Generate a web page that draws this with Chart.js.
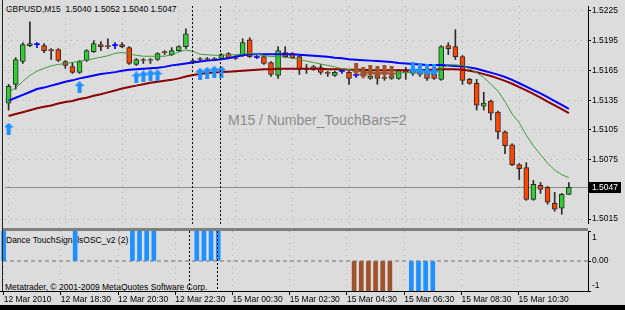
<!DOCTYPE html>
<html>
<head>
<meta charset="utf-8">
<script src="https://cdn.jsdelivr.net/npm/chart.js@4.4.1/dist/chart.umd.min.js"></script>
<style>
  html, body { margin: 0; padding: 0; }
  body { width: 625px; height: 310px; background: #dcdcdc; position: relative; overflow: hidden; font-family: 'Liberation Sans', Arial, sans-serif; }
  .txt { position: absolute; white-space: nowrap; font-size: 8.5px; color: #000; line-height: 1; }
  canvas { position: absolute; left: 0; }
</style>
</head>
<body>
<div class="txt" style="left:6px; top:4.5px;">GBPUSD,M15&nbsp; 1.5040 1.5052 1.5040 1.5047</div>
<div class="txt" style="left:228px; top:112.5px; font-size:14px; color:#8c8c8c;">M15 / Number_TouchBars=2</div>
<div class="txt" style="left:6px; top:236px;">Dance TouchSignalsOSC_v2 (2)</div>
<div class="txt" style="left:5px; top:282.5px;">Metatrader, © 2001-2009 MetaQuotes Software Corp.</div>
<canvas id="main" width="625" height="230" style="top:0"></canvas>
<canvas id="osc" width="625" height="81" style="top:229px"></canvas>
<div style="position:absolute; left:2px; top:228px; width:586px; height:3px; background:#808080"></div>
<div style="position:absolute; left:2px; top:0; width:1px; height:291px; background:#222"></div>
<div style="position:absolute; left:0; top:305px; width:625px; height:5px; background:#000"></div>
<script>
// GBPUSD M15, 12 Mar 16:30 .. 15 Mar 12:15
const opens = [1.5132, 1.5151, 1.5174, 1.5190, 1.5191, 1.5190, 1.5186, 1.5186, 1.5174, 1.5169,
  1.5163, 1.5175, 1.5184, 1.5191, 1.5190, 1.5190, 1.5191, 1.5188, 1.5171, 1.5176,
  1.5175, 1.5176, 1.5184, 1.5181, 1.5185, 1.5189, 1.5173, 1.5177, 1.5177, 1.5176,
  1.5177, 1.5182, 1.5178, 1.5180, 1.5196, 1.5178, 1.5179, 1.5173, 1.5160, 1.5183,
  1.5182, 1.5179, 1.5167, 1.5166, 1.5168, 1.5163, 1.5160, 1.5164, 1.5163, 1.5160,
  1.5165, 1.5157, 1.5160, 1.5158, 1.5157, 1.5157, 1.5164, 1.5162, 1.5164, 1.5162,
  1.5161, 1.5156, 1.5190, 1.5189, 1.5179, 1.5156, 1.5152, 1.5129, 1.5134, 1.5123,
  1.5103, 1.5090, 1.5070, 1.5067, 1.5035, 1.5049, 1.5047, 1.5031, 1.5026, 1.5040];
const highs = [1.5151, 1.5178, 1.5193, 1.5214, 1.5193, 1.5192, 1.5187, 1.5187, 1.5175, 1.5173,
  1.5175, 1.5186, 1.5195, 1.5194, 1.5197, 1.5193, 1.5193, 1.5189, 1.5177, 1.5177,
  1.5177, 1.5183, 1.5185, 1.5188, 1.5190, 1.5207, 1.5176, 1.5178, 1.5178, 1.5178,
  1.5182, 1.5183, 1.5180, 1.5197, 1.5198, 1.5180, 1.5180, 1.5174, 1.5189, 1.5189,
  1.5183, 1.5180, 1.5171, 1.5170, 1.5171, 1.5164, 1.5164, 1.5165, 1.5164, 1.5162,
  1.5167, 1.5161, 1.5162, 1.5160, 1.5161, 1.5166, 1.5168, 1.5166, 1.5165, 1.5164,
  1.5162, 1.5190, 1.5193, 1.5206, 1.5180, 1.5157, 1.5156, 1.5143, 1.5135, 1.5124,
  1.5104, 1.5091, 1.5071, 1.5072, 1.5054, 1.5052, 1.5048, 1.5042, 1.5041, 1.5052];
const lows = [1.5125, 1.5146, 1.5172, 1.5189, 1.5188, 1.5183, 1.5176, 1.5174, 1.5167, 1.5162,
  1.5162, 1.5174, 1.5183, 1.5185, 1.5187, 1.5187, 1.5188, 1.5171, 1.5170, 1.5172,
  1.5172, 1.5175, 1.5181, 1.5180, 1.5184, 1.5187, 1.5172, 1.5174, 1.5175, 1.5175,
  1.5176, 1.5177, 1.5176, 1.5179, 1.5178, 1.5177, 1.5171, 1.5159, 1.5157, 1.5178,
  1.5177, 1.5161, 1.5162, 1.5165, 1.5161, 1.5159, 1.5159, 1.5162, 1.5151, 1.5158,
  1.5159, 1.5156, 1.5151, 1.5155, 1.5156, 1.5156, 1.5156, 1.5160, 1.5159, 1.5155,
  1.5156, 1.5155, 1.5181, 1.5176, 1.5151, 1.5151, 1.5125, 1.5125, 1.5115, 1.5096,
  1.5081, 1.5069, 1.5055, 1.5034, 1.5034, 1.5041, 1.5030, 1.5023, 1.5020, 1.5040];
const closes = [1.5149, 1.5176, 1.5191, 1.5192, 1.5191, 1.5185, 1.5185, 1.5175, 1.5170, 1.5163,
  1.5174, 1.5185, 1.5192, 1.5189, 1.5189, 1.5190, 1.5189, 1.5172, 1.5176, 1.5175,
  1.5176, 1.5182, 1.5183, 1.5185, 1.5189, 1.5202, 1.5175, 1.5176, 1.5176, 1.5177,
  1.5181, 1.5178, 1.5177, 1.5193, 1.5179, 1.5178, 1.5172, 1.5161, 1.5185, 1.5179,
  1.5178, 1.5166, 1.5166, 1.5169, 1.5163, 1.5162, 1.5163, 1.5164, 1.5157, 1.5160,
  1.5161, 1.5159, 1.5157, 1.5157, 1.5159, 1.5165, 1.5163, 1.5164, 1.5161, 1.5157,
  1.5157, 1.5189, 1.5187, 1.5179, 1.5155, 1.5152, 1.5130, 1.5132, 1.5122, 1.5103,
  1.5089, 1.5070, 1.5066, 1.5035, 1.5050, 1.5045, 1.5032, 1.5025, 1.5040, 1.5047];

// moving averages
const maGreen = [1.51433, 1.51472, 1.51540, 1.51599, 1.51642, 1.51672, 1.51696, 1.51711, 1.51720, 1.51730,
  1.51745, 1.51754, 1.51769, 1.51783, 1.51798, 1.51822, 1.51832, 1.51817, 1.51803, 1.51793,
  1.51793, 1.51793, 1.51793, 1.51808, 1.51837, 1.51856, 1.51842, 1.51813, 1.51808, 1.51803,
  1.51803, 1.51808, 1.51808, 1.51817, 1.51822, 1.51813, 1.51803, 1.51788, 1.51793, 1.51783,
  1.51774, 1.51759, 1.51745, 1.51730, 1.51715, 1.51701, 1.51686, 1.51667, 1.51657, 1.51642,
  1.51638, 1.51633, 1.51628, 1.51623, 1.51618, 1.51623, 1.51628, 1.51628, 1.51628, 1.51618,
  1.51618, 1.51667, 1.51706, 1.51706, 1.51701, 1.51667, 1.51628, 1.51579, 1.51511, 1.51443,
  1.51336, 1.51210, 1.51122, 1.50996, 1.50889, 1.50801, 1.50714, 1.50646, 1.50598, 1.50568];
const maBlue = [1.51346, 1.51375, 1.51404, 1.51433, 1.51463, 1.51477, 1.51497, 1.51516, 1.51536, 1.51550,
  1.51570, 1.51584, 1.51599, 1.51613, 1.51623, 1.51633, 1.51647, 1.51657, 1.51662, 1.51667,
  1.51672, 1.51677, 1.51686, 1.51701, 1.51711, 1.51720, 1.51730, 1.51740, 1.51749, 1.51754,
  1.51764, 1.51774, 1.51788, 1.51803, 1.51813, 1.51813, 1.51813, 1.51813, 1.51813, 1.51813,
  1.51813, 1.51808, 1.51803, 1.51798, 1.51793, 1.51788, 1.51779, 1.51774, 1.51764, 1.51759,
  1.51754, 1.51749, 1.51745, 1.51740, 1.51735, 1.51725, 1.51720, 1.51715, 1.51711, 1.51706,
  1.51706, 1.51706, 1.51701, 1.51696, 1.51691, 1.51681, 1.51667, 1.51647, 1.51628, 1.51608,
  1.51584, 1.51555, 1.51521, 1.51486, 1.51452, 1.51419, 1.51380, 1.51341, 1.51302, 1.51263];
const maRed = [1.51190, 1.51210, 1.51229, 1.51249, 1.51268, 1.51283, 1.51297, 1.51317, 1.51331, 1.51341,
  1.51361, 1.51375, 1.51395, 1.51409, 1.51429, 1.51448, 1.51468, 1.51482, 1.51497, 1.51511,
  1.51526, 1.51536, 1.51545, 1.51555, 1.51570, 1.51589, 1.51604, 1.51613, 1.51623, 1.51628,
  1.51633, 1.51638, 1.51642, 1.51647, 1.51652, 1.51657, 1.51662, 1.51662, 1.51667, 1.51667,
  1.51667, 1.51667, 1.51667, 1.51667, 1.51667, 1.51662, 1.51662, 1.51662, 1.51657, 1.51657,
  1.51657, 1.51652, 1.51652, 1.51652, 1.51652, 1.51652, 1.51652, 1.51652, 1.51652, 1.51657,
  1.51657, 1.51662, 1.51662, 1.51662, 1.51657, 1.51647, 1.51633, 1.51613, 1.51594, 1.51570,
  1.51545, 1.51516, 1.51482, 1.51448, 1.51414, 1.51375, 1.51336, 1.51297, 1.51259, 1.51220];

// signal arrows on the price chart
const upArrowBars = [0, 10, 18, 19, 20, 21, 27, 28, 29, 30];
const upArrowPrices = [1.51064, 1.51482, 1.51579, 1.51589, 1.51599, 1.51599, 1.51618, 1.51628, 1.51638, 1.51638];
const brownArrowBars = [49, 50, 51, 52, 53, 54];
const brownArrowPrices = [1.51667, 1.51628, 1.51647, 1.51638, 1.51647, 1.51638];
const downArrowBars = [57, 58, 59, 60];
const downArrowPrices = [1.51677, 1.51667, 1.51657, 1.51657];

// oscillator histogram
const oscBlueBars = [0, 10, 18, 19, 20, 21, 27, 28, 29, 30, 57, 58, 59, 60];
const oscBlueValues = [1, 1, 1, 1, 1, 1, 1, 1, 1, 1, -1, -1, -1, -1];
const oscBrownBars = [49, 50, 51, 52, 53, 54];
const oscBrownValues = [-1, -1, -1, -1, -1, -1];
const oscTicks = [1, 0, -1];
const oscTickLabels = ['1', '0.00', '-1'];

// axes
const tickBars = [0, 8, 16, 24, 32, 40, 48, 56, 64, 72];
const tickLabels = ['12 Mar 2010', '12 Mar 18:30', '12 Mar 20:30', '12 Mar 22:30', '15 Mar 00:30',
  '15 Mar 02:30', '15 Mar 04:30', '15 Mar 06:30', '15 Mar 08:30', '15 Mar 10:30'];
const priceTicks = [1.5015, 1.5075, 1.5105, 1.5135, 1.5165, 1.5195, 1.5225];
const separatorBars = [26, 30];

const X_MIN = -0.51, X_MAX = 81.7;
const Y_MIN = 1.50102, Y_MAX = 1.52299;

Chart.defaults.font.family = "'Liberation Sans', Arial, sans-serif";
Chart.defaults.font.size = 8.5;
Chart.defaults.color = '#000';

const GRID = '#b4b4b4';
const bars = opens.map((_, i) => i);
const isDoji = (i) => opens[i] === closes[i];
const bodyColor = (i) => isDoji(i) ? '#0000ff' : closes[i] > opens[i] ? '#32cd32' : '#ff4500';

function arrowImage(color, up) {
  const c = document.createElement('canvas');
  c.width = 10; c.height = 12;
  const g = c.getContext('2d');
  g.fillStyle = color;
  g.beginPath();
  if (up) {
    g.moveTo(5, 0); g.lineTo(10, 5); g.lineTo(7, 5); g.lineTo(7, 12);
    g.lineTo(3, 12); g.lineTo(3, 5); g.lineTo(0, 5);
  } else {
    g.moveTo(5, 12); g.lineTo(10, 7); g.lineTo(7, 7); g.lineTo(7, 0);
    g.lineTo(3, 0); g.lineTo(3, 7); g.lineTo(0, 7);
  }
  g.closePath();
  g.fill();
  return c;
}

function drawSeparators(chart) {
  const { ctx, chartArea: a, scales: { x } } = chart;
  ctx.save();
  ctx.strokeStyle = '#000';
  ctx.lineWidth = 1;
  ctx.setLineDash([2, 2]);
  separatorBars.forEach((b) => {
    const px = Math.round(x.getPixelForValue(b)) - 0.5;
    ctx.beginPath();
    ctx.moveTo(px, a.top);
    ctx.lineTo(px, a.bottom);
    ctx.stroke();
  });
  ctx.restore();
}

const mainDecor = {
  id: 'mainDecor',
  beforeDatasetsDraw(chart) {
    const { ctx, chartArea: a, scales: { y } } = chart;
    const yb = Math.round(y.getPixelForValue(closes[closes.length - 1])) + 0.5;
    ctx.save();
    ctx.strokeStyle = '#8a9090';
    ctx.lineWidth = 1;
    ctx.beginPath();
    ctx.moveTo(a.left, yb);
    ctx.lineTo(a.right, yb);
    ctx.stroke();
    ctx.restore();
  },
  afterDatasetsDraw(chart) {
    drawSeparators(chart);
  },
  afterDraw(chart) {
    const { ctx, chartArea: a, scales: { y } } = chart;
    const last = closes[closes.length - 1];
    const yb = Math.round(y.getPixelForValue(last));
    ctx.save();
    ctx.fillStyle = '#000';
    ctx.fillRect(a.right + 1, yb - 5, 32, 11);
    ctx.fillStyle = '#fff';
    ctx.font = "8.5px 'Liberation Sans', Arial, sans-serif";
    ctx.textBaseline = 'middle';
    ctx.fillText(last.toFixed(4), a.right + 4, yb + 0.5);
    ctx.restore();
  }
};

const oscDecor = {
  id: 'oscDecor',
  beforeDatasetsDraw(chart) {
    const { ctx, chartArea: a, scales: { y } } = chart;
    const y0 = Math.round(y.getPixelForValue(0));
    ctx.save();
    ctx.strokeStyle = '#a6a6a6';
    ctx.lineWidth = 2;
    ctx.setLineDash([4, 3]);
    ctx.beginPath();
    ctx.moveTo(a.left + 3, y0);
    ctx.lineTo(a.right, y0);
    ctx.stroke();
    ctx.restore();
  },
  afterDatasetsDraw(chart) {
    drawSeparators(chart);
  },
  afterDraw(chart) {
    const { ctx, chartArea: a, scales: { y } } = chart;
    const nudge = [7, 0, -5];
    ctx.save();
    ctx.fillStyle = '#000';
    ctx.font = "8.5px 'Liberation Sans', Arial, sans-serif";
    ctx.textBaseline = 'middle';
    oscTicks.forEach((v, k) => {
      ctx.fillText(oscTickLabels[k], a.right + 4, y.getPixelForValue(v) + nudge[k]);
    });
    ctx.restore();
  }
};

const xCommon = {
  type: 'linear', min: X_MIN, max: X_MAX, offset: false,
  afterBuildTicks: (s) => { s.ticks = tickBars.map((v) => ({ value: v })); }
};

new Chart(document.getElementById('main'), {
  type: 'bar',
  data: {
    datasets: [
      { type: 'scatter', data: upArrowBars.map((b, k) => ({ x: b, y: upArrowPrices[k] })), pointStyle: arrowImage('#1e90ff', true), order: 0 },
      { type: 'scatter', data: brownArrowBars.map((b, k) => ({ x: b, y: brownArrowPrices[k] })), pointStyle: arrowImage('#a0522d', false), order: 0 },
      { type: 'scatter', data: downArrowBars.map((b, k) => ({ x: b, y: downArrowPrices[k] })), pointStyle: arrowImage('#1e90ff', false), order: 0 },
      { type: 'line', data: bars.map((i) => ({ x: i, y: maGreen[i] })), borderColor: '#3c9c3c', borderWidth: 1, pointRadius: 0, order: 1 },
      { type: 'line', data: bars.map((i) => ({ x: i, y: maBlue[i] })), borderColor: '#0000ff', borderWidth: 2, pointRadius: 0, order: 1 },
      { type: 'line', data: bars.map((i) => ({ x: i, y: maRed[i] })), borderColor: '#8b0000', borderWidth: 2, pointRadius: 0, order: 1 },
      {
        data: bars.map((i) => ({ x: i, y: [Math.min(opens[i], closes[i]), Math.max(opens[i], closes[i])] })),
        backgroundColor: bars.map(bodyColor),
        borderColor: bars.map((i) => isDoji(i) ? '#0000ff' : '#2b2b2b'),
        borderWidth: bars.map((i) => isDoji(i) ? 0 : 1),
        borderSkipped: false, barThickness: 5, minBarLength: 1, grouped: false, order: 2
      },
      {
        data: bars.map((i) => ({ x: i, y: [lows[i], highs[i]] })),
        backgroundColor: bars.map((i) => isDoji(i) ? '#0000ff' : '#2b2b2b'),
        barThickness: 1, grouped: false, order: 3
      }
    ]
  },
  options: {
    responsive: false, animation: false,
    layout: { padding: { top: 2, bottom: 2, left: 0, right: 0 } },
    plugins: { legend: { display: false }, tooltip: { enabled: false } },
    scales: {
      x: {
        ...xCommon,
        afterFit: (s) => { s.height = 0; },
        ticks: { display: false },
        grid: { color: GRID, drawTicks: false, offset: false },
        border: { display: false, dash: [1, 5] }
      },
      y: {
        position: 'right', min: Y_MIN, max: Y_MAX,
        afterBuildTicks: (s) => { s.ticks = priceTicks.map((v) => ({ value: v })); },
        afterFit: (s) => { s.width = 37; },
        ticks: { color: '#000', padding: 1, callback: (v) => Number(v).toFixed(4) },
        grid: { color: GRID, tickColor: '#000', tickLength: 3 },
        border: { color: '#000', dash: [1, 5] }
      }
    }
  },
  plugins: [mainDecor]
});

new Chart(document.getElementById('osc'), {
  type: 'bar',
  data: {
    datasets: [
      { data: oscBlueBars.map((b, k) => ({ x: b, y: oscBlueValues[k] })), backgroundColor: '#1e90ff', barThickness: 4, grouped: false },
      { data: oscBrownBars.map((b, k) => ({ x: b, y: oscBrownValues[k] })), backgroundColor: '#a0522d', barThickness: 4, grouped: false }
    ]
  },
  options: {
    responsive: false, animation: false,
    layout: { padding: { top: 2, bottom: 0, left: 0, right: 0 } },
    plugins: { legend: { display: false }, tooltip: { enabled: false } },
    scales: {
      x: {
        ...xCommon,
        afterFit: (s) => { s.height = 19; },
        ticks: { color: '#000', align: 'start', padding: 0, maxRotation: 0, minRotation: 0, autoSkip: false, callback: (v, k) => tickLabels[k] },
        grid: { color: GRID, tickColor: '#000', tickLength: 4, offset: false },
        border: { color: '#000', dash: [1, 5] }
      },
      y: {
        position: 'right', min: -1, max: 1,
        afterBuildTicks: (s) => { s.ticks = oscTicks.map((v) => ({ value: v })); },
        afterFit: (s) => { s.width = 37; },
        ticks: { display: false },
        grid: { drawOnChartArea: false, tickColor: '#000', tickLength: 3 },
        border: { color: '#000' }
      }
    }
  },
  plugins: [oscDecor]
});
</script>
</body>
</html>
